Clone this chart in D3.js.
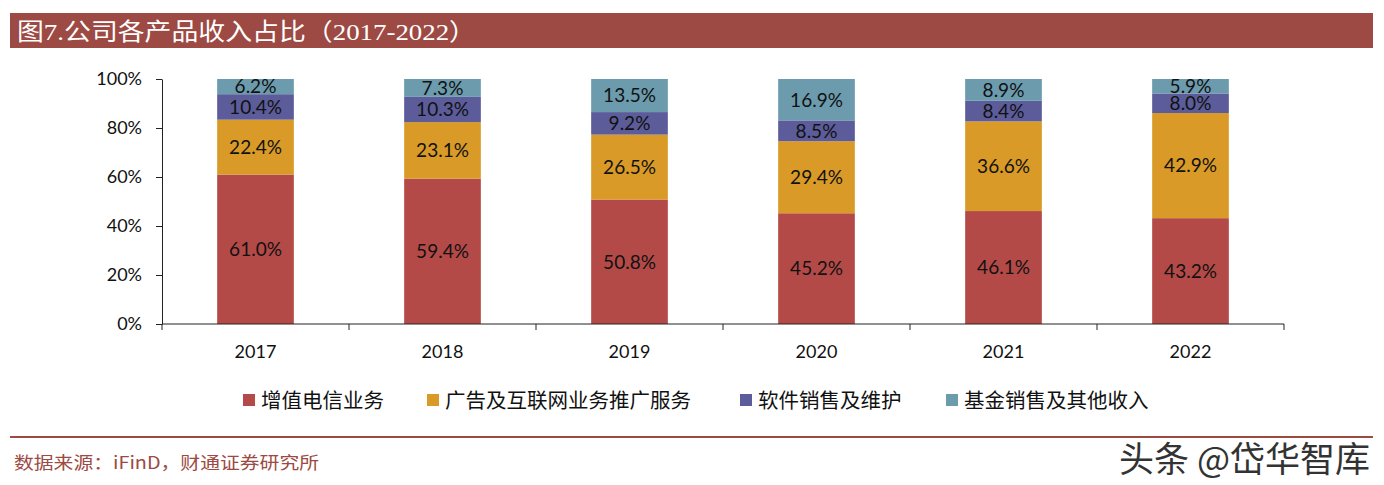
<!DOCTYPE html>
<html><head><meta charset="utf-8">
<script src="https://cdn.jsdelivr.net/npm/d3@7"></script>
<style>body{margin:0;background:#fff;}svg{display:block;}</style>
</head><body>
<script>
const categories = ["2017","2018","2019","2020","2021","2022"];
const seriesNames = ["增值电信业务","广告及互联网业务推广服务","软件销售及维护","基金销售及其他收入"];
const telecom  = [61.0, 59.4, 50.8, 45.2, 46.1, 43.2];
const ads      = [22.4, 23.1, 26.5, 29.4, 36.6, 42.9];
const software = [10.4, 10.3, 9.2, 8.5, 8.4, 8.0];
const fund     = [6.2, 7.3, 13.5, 16.9, 8.9, 5.9];
const yTicks = [0, 0.2, 0.4, 0.6, 0.8, 1.0];
const colors = ["#b44a47","#d99a27","#5c5c9a","#6b9bad"];

const W = 1384, H = 485;
const svg = d3.select("body").append("svg").attr("width", W).attr("height", H);

// title bar
svg.append("rect").attr("x",10).attr("y",13).attr("width",1363).attr("height",35).attr("fill","#9c4a43");
svg.append("text").attr("x",17).attr("y",40).attr("fill","#fff")
  .attr("font-family","'Liberation Serif','Noto Sans CJK SC',serif").attr("font-size",24)
  .attr("textLength",459).attr("lengthAdjust","spacingAndGlyphs")
  .text("图7.公司各产品收入占比（2017-2022）");

const rows = categories.map((c,i)=>({cat:c, s0:telecom[i], s1:ads[i], s2:software[i], s3:fund[i]}));
const keys = ["s0","s1","s2","s3"];
const stack = d3.stack().keys(keys).offset(d3.stackOffsetExpand)(rows);

const x = d3.scaleBand().domain(categories).range([162,1284]).paddingInner(0.59).paddingOuter(0.295);
const y = d3.scaleLinear().domain([0,1]).range([324,79]);

const g = svg.append("g");
stack.forEach((layer,li)=>{
  g.selectAll(null).data(layer).enter().append("rect")
    .attr("x", d=>x(d.data.cat)).attr("width", x.bandwidth())
    .attr("y", d=>y(d[1])).attr("height", d=>y(d[0])-y(d[1]))
    .attr("fill", colors[li]);
  g.selectAll(null).data(layer).enter().append("text")
    .attr("x", d=>x(d.data.cat)+x.bandwidth()/2)
    .attr("y", d=>(y(d[0])+y(d[1]))/2)
    .attr("dy","0.36em").attr("text-anchor","middle")
    .attr("font-family","Lato,'Open Sans',sans-serif").attr("font-size",19).attr("fill","#111")
    .text(d=>d.data[keys[li]].toFixed(1)+"%");
});

// y axis
const yAxis = d3.axisLeft(y).tickValues(yTicks).tickFormat(d3.format(".0%")).tickSize(6).tickSizeOuter(0);
const ya = svg.append("g").attr("transform","translate(162,0)").call(yAxis);
ya.selectAll("text").attr("font-family","Lato,'Open Sans',sans-serif").attr("font-size",18).attr("fill","#111").attr("x",-20);
ya.selectAll("line,path").attr("stroke","#222");

// x axis with boundary ticks
const xa = svg.append("g").attr("transform","translate(0,324)");
xa.append("line").attr("x1",162).attr("x2",1284).attr("stroke","#222");
const bounds = categories.map(c=>x(c)-x.step()*x.paddingInner()/2).concat([1284]);
xa.selectAll(null).data(bounds).enter().append("line")
  .attr("x1",d=>d).attr("x2",d=>d).attr("y1",0).attr("y2",6).attr("stroke","#222");
xa.selectAll(null).data(categories).enter().append("text")
  .attr("x",d=>x(d)+x.bandwidth()/2).attr("y",34).attr("text-anchor","middle")
  .attr("font-family","Lato,'Open Sans',sans-serif").attr("font-size",18).attr("fill","#111")
  .text(d=>d);

// legend
const legX = [243, 427, 740, 946];
const leg = svg.append("g");
seriesNames.forEach((n,i)=>{
  leg.append("rect").attr("x",legX[i]).attr("y",394).attr("width",12).attr("height",12).attr("fill",colors[i]);
  leg.append("text").attr("x",legX[i]+18).attr("y",408)
    .attr("font-family","'Noto Sans CJK SC',sans-serif").attr("font-size",20.5).attr("fill","#111").text(n);
});

// bottom rule & source
svg.append("line").attr("x1",10).attr("x2",1373).attr("y1",437).attr("y2",437).attr("stroke","#9c4a43").attr("stroke-width",2);
svg.append("text").attr("x",14).attr("y",469).attr("fill","#9c4a43")
  .attr("font-family","'Noto Sans CJK SC',serif").attr("font-size",17)
  .attr("textLength",305).attr("lengthAdjust","spacingAndGlyphs")
  .text("数据来源：iFinD，财通证券研究所");

// watermark
svg.append("text").attr("x",1370).attr("y",472).attr("text-anchor","end")
  .attr("font-family","'Noto Sans CJK SC',sans-serif").attr("font-size",35).attr("fill","#333")
  .attr("stroke","#fff").attr("stroke-width",1).attr("paint-order","stroke")
  .text("头条 @岱华智库");
</script>
</body></html>
